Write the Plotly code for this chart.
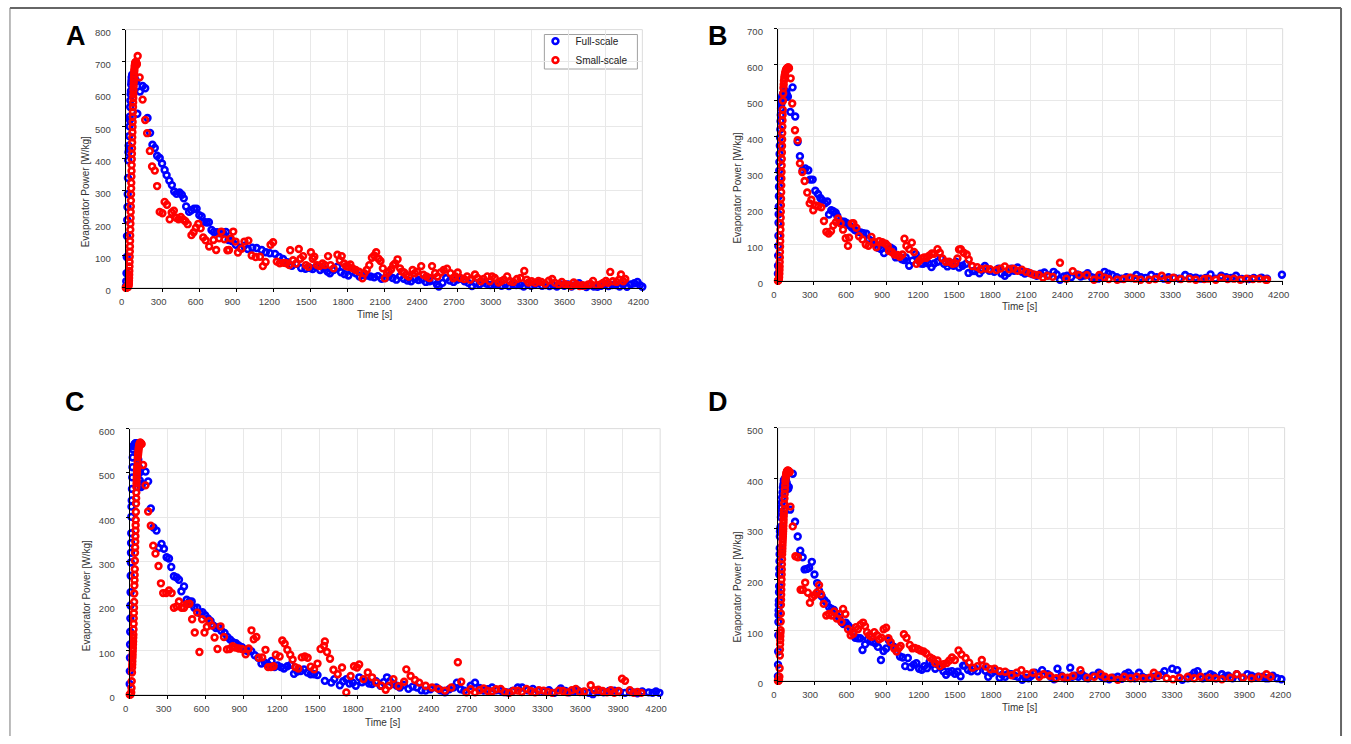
import plotly.graph_objects as go

W, H = 1351, 744

# ---------------- DATA ----------------
# Panel A
A_full_t = [2,4,6,8,10,12,14,16,18,20,22,24,26,28,30,32,34,36,38,40,42,44,46,48,50,52,55,58,62,66,70,75,80,86,
            94,115,137,158,177,198,217,236,255,276,295,316,332,354,375,394,413,437,456,472,
            491,515,533,555,576,598,617,638,657,676,697,716,743,764,791,815,836,863,895,933,
            962,992,1029,1064,1105,1139,1172,1214,1247,1279,1314,1351,1386,1426,1461,1499,
            1520,1550,1580,1610,1640,1660,1690,1720,1750,1780,1810,1840,1870,1900,1930,1960,1990,2020,2050,2080,
            2110,2140,2170,2200,2230,2260,2290,2320,2350,2380,2410,2440,2470,2500,2530,2545,2575,2605,2635,2665,
            2695,2725,2755,2785,2815,2845,2875,2905,2935,2965,2995,3025,3055,3085,3115,3145,3175,3205,3235,3265,
            3295,3325,3355,3385,3415,3445,3475,3505,3535,3565,3595,3625,3655,3685,3715,3745,3775,3805,3835,3865,
            3895,3925,3955,3985,4015,4045,4075,4105,4135,4160,4180,4200]
A_full_p = [5,20,45,95,160,210,250,290,340,395,420,440,430,470,500,530,520,560,580,600,610,630,640,650,655,660,650,640,655,660,650,645,640,640,
            539,608,625,618,526,480,443,433,409,402,385,365,349,332,318,298,291,295,288,277,
            252,235,240,245,245,225,221,204,202,203,179,173,172,169,170,173,148,145,133,123,
            130,120,124,123,117,110,107,105,95,89,79,68,74,61,59,61,
            58,65,55,60,50,45,55,65,48,42,38,50,45,35,40,38,35,32,36,28,
            30,36,30,25,36,28,22,20,28,24,26,18,20,22,10,4,15,30,22,18,
            25,28,20,15,5,14,10,16,12,8,10,12,6,10,5,12,8,8,4,12,
            6,10,15,6,8,5,8,4,10,6,10,4,8,14,6,2,8,4,3,6,
            11,5,8,8,4,10,3,10,14,18,8,3]
A_small_t = [0,3,6,9,12,15,18,20,22,24,25,26,27,28,29,30,31,32,33,34,35,36,37,38,39,40,41,42,43,44,
             45,46,47,48,49,50,51,52,53,54,55,56,57,58,59,60,61,62,63,64,65,66,67,68,69,70,72,74,76,78,
             80,82,84,86,88,90,
             97,113,137,158,174,196,214,236,255,276,298,316,335,357,373,391,410,429,448,469,
             485,504,534,552,571,590,609,630,649,678,713,735,759,777,802,826,839,853,874,893,
             912,941,965,997,1024,1056,1091,1115,1137,1177,1198,1228,1252,1284,1306,
             1330,1337,1360,1385,1407,1420,1442,1465,1485,1505,1520,1533,1555,1575,1600,1620,1645,1665,1690,1721,
             1740,1756,1775,1791,1810,1826,1845,1870,1895,1924,1940,1959,1980,2001,2020,2036,2055,2071,2090,2106,
             2125,2140,2158,2175,2190,2210,2230,2245,2263,2280,2300,2332,2350,2370,2402,2420,2445,2470,2490,2515,
             2535,2559,2585,2612,2640,2664,2680,2699,2720,2751,2775,2800,2839,2860,2885,2909,2940,2960,2978,3000,
             3031,3050,3075,3101,3125,3150,3181,3210,3240,3260,3275,3300,3330,3355,3380,3410,3440,3467,3490,3520,
             3545,3572,3600,3620,3642,3665,3690,3710,3729,3760,3780,3799,3830,3860,3880,3904,3920,3939,3960,3990,
             4010,4026,4045,4061]
A_small_p = [0,1,0,2,1,3,2,4,6,10,15,22,30,40,52,66,80,96,112,128,145,162,180,198,216,235,252,270,290,308,
             325,345,362,380,398,415,432,450,466,482,498,514,530,545,560,574,588,600,612,624,635,645,654,662,670,676,684,690,694,697,
             699,700,698,696,694,692,
             718,652,583,520,479,424,376,363,315,235,231,266,257,212,233,239,217,212,219,211,
             206,197,163,172,186,198,184,156,147,128,148,117,153,174,150,116,117,153,174,143,
             109,121,143,146,100,95,96,67,80,133,141,81,76,77,76,
             70,116,85,75,120,90,98,70,65,110,90,96,70,67,75,70,98,70,60,102,
             85,98,75,67,65,72,60,55,50,29,45,55,70,93,100,110,90,83,60,29,
             45,50,57,70,75,88,60,50,47,40,35,55,45,50,67,40,35,30,67,45,
             35,47,55,59,45,29,35,47,30,27,35,25,41,30,20,27,35,20,35,30,
             16,20,25,35,20,18,27,30,52,25,16,20,15,21,18,12,22,27,15,10,
             18,11,8,5,16,10,5,8,6,10,12,21,8,10,15,21,15,49,20,18,
             25,41,20,27]

# Panel B
B_full_t = [0,1,2,3,4,5,6,7,8,9,10,11,12,14,16,18,20,22,24,26,28,30,33,36,40,45,50,55,60,65,70,76,83,
            103,122,144,164,183,206,228,253,269,289,311,333,353,369,392,411,425,444,461,481,
            494,517,536,553,569,592,614,639,664,689,711,736,758,786,808,833,856,883,911,939,
            958,981,1008,1031,1050,1064,1092,1119,1147,1169,1189,1208,1231,1253,1278,1300,1328,1356,1383,1411,
            1433,1461,1481,1508,1536,1564,1586,
            1620,1641,1677,1700,1722,1760,1800,1835,1860,1888,1915,1941,1965,1994,2030,2055,2083,2120,2153,2185,
            2217,2255,2294,2320,2347,2380,2407,2440,2488,2520,2550,2577,2610,2640,2665,2690,2718,2750,2781,2820,
            2859,2900,2940,2983,3020,3060,3106,3150,3212,3250,3300,3340,3389,3430,3477,3520,3560,3600,3640,3689,
            3730,3770,3812,3860,3918,3960,4024,4070,4194]
B_full_p = [20,42,70,97,125,161,185,206,235,261,285,306,330,352,375,397,420,443,460,479,490,500,507,512,516,520,522,525,520,518,525,515,511,
            469,537,456,385,346,307,312,307,281,281,250,241,230,224,215,220,184,196,193,189,
            180,166,164,164,161,155,148,141,136,134,132,131,115,110,103,92,88,77,90,92,
            88,65,67,60,58,65,42,56,74,60,48,47,53,48,38,48,53,63,47,40,
            48,42,53,37,42,47,22,
            27,27,21,30,41,28,25,34,20,14,22,34,28,37,25,20,23,18,14,20,
            23,15,25,18,3,12,14,10,18,12,15,21,10,8,6,12,25,20,16,10,
            6,10,8,16,10,8,16,10,6,10,8,6,16,10,9,6,8,18,6,14,
            10,8,14,5,5,8,9,6,17]
B_small_t = [0,2,4,6,8,10,12,13,14,15,16,17,18,19,20,21,22,23,24,25,26,27,28,29,30,31,32,33,34,35,
             36,37,38,39,40,42,44,46,48,50,53,56,60,64,68,72,76,80,84,88,92,
             106,119,142,164,183,203,222,244,264,278,294,314,336,361,383,403,422,442,461,483,
             500,522,542,564,583,592,614,628,653,675,703,731,753,778,800,819,842,869,897,914,
             925,947,969,994,1014,1036,1053,1069,1092,1114,1133,1153,1175,1197,1217,1236,1258,1281,1300,1328,
             1347,1369,1397,1425,1453,1475,1494,1507,1522,1546,1571,1588,1617,1659,1687,1730,1765,1818,1853,1888,
             1924,1959,1994,2030,2065,2100,2136,2171,2206,2241,2287,2347,2400,2453,2506,2570,2630,2675,2718,2753,
             2824,2877,2930,2972,3018,3089,3141,3194,3247,3290,3353,3424,3477,3547,3583,3643,3689,3742,3795,3848,
             3900,3953,4006,4059,4070]
B_small_p = [0,1,2,3,5,10,20,30,40,52,65,80,95,110,125,142,158,175,192,210,228,246,265,284,302,320,338,356,374,392,
             410,428,445,460,475,500,520,535,545,555,563,570,577,582,586,588,590,591,592,592,590,
             562,492,418,390,326,302,277,245,215,225,196,209,207,204,166,136,131,138,154,163,
             173,159,142,118,97,120,159,160,147,124,115,101,97,122,107,93,110,107,103,97,
             83,80,73,72,67,73,117,97,88,106,80,47,55,62,65,64,70,76,75,88,
             78,62,53,53,47,49,62,87,88,78,73,59,41,38,32,34,32,30,34,40,
             32,34,28,31,25,21,17,16,9,14,11,50,6,27,16,16,3,16,9,5,
             3,5,9,6,3,3,5,14,3,9,5,6,3,5,6,3,9,5,6,3,
             6,5,6,3,3]

# Panel C
C_full_t = [0,1,2,3,4,5,6,7,8,9,10,11,12,13,14,16,18,20,22,24,27,30,34,38,42,46,50,55,60,64,68,72,76,80,85,90,95,
            125,146,167,188,212,231,252,271,292,311,329,350,372,390,409,430,451,473,491,512,
            534,555,576,597,619,640,661,682,704,725,751,773,796,818,841,863,889,916,937,963,
            990,1017,1043,1070,1094,1123,1147,1171,1197,1221,1248,1274,1301,1327,1354,1380,1407,1433,1460,1487,
            1545,1596,1620,1664,1690,1715,1740,1766,1790,1817,1840,1868,1895,1919,1950,1986,2010,2037,2060,2088,
            2115,2139,2170,2207,2240,2275,2310,2343,2380,2428,2460,2496,2530,2564,2591,2620,2649,2700,2734,2770,
            2802,2835,2869,2900,2937,2960,2988,3030,3073,3107,3150,3192,3235,3277,3320,3362,3413,3450,3481,3520,
            3549,3590,3634,3667,3710,3752,3795,3837,3880,3922,3960,3990,4020,4058,4109,4140,4167,4194]
C_full_p = [24,53,83,113,142,172,201,231,268,298,320,342,364,401,424,438,464,490,513,535,553,560,562,564,566,567,565,567,560,542,530,513,500,483,475,468,472,
            503,481,420,377,370,331,340,329,310,307,288,267,264,259,233,244,214,210,210,196,
            196,184,186,179,172,166,156,150,152,144,139,130,124,118,116,111,107,100,98,98,
            89,83,70,72,68,76,62,66,62,59,64,67,47,52,53,57,50,46,46,44,
            31,27,35,21,30,35,25,27,20,39,28,31,25,24,30,20,28,39,30,24,
            20,16,22,13,18,16,10,9,12,16,10,5,12,16,27,12,9,20,27,15,
            9,12,16,10,9,6,5,8,16,16,10,13,8,7,10,4,14,8,5,8,
            9,6,4,1,6,5,8,9,6,4,6,5,3,7,5,4,7,4]
C_small_t = [0,3,6,9,12,14,16,18,19,20,21,22,23,24,25,26,27,28,29,30,31,32,33,34,35,36,37,38,39,40,
             41,42,43,44,45,46,47,48,49,50,51,52,53,54,55,56,57,58,59,60,62,64,66,68,70,72,74,76,78,80,
             82,85,88,91,94,
             106,125,146,167,186,204,228,247,265,289,311,332,350,372,390,411,430,451,473,494,
             515,534,552,573,592,611,629,650,672,695,719,746,770,791,815,836,863,889,918,942,
             964,982,1003,1022,1049,1075,1096,1118,1139,1157,1187,1208,1227,1248,1271,1290,1311,1335,1362,1386,
             1409,1433,1460,1487,1511,1538,1545,1562,1586,1613,1647,1681,1715,1749,1776,1800,1817,1851,1885,1919,
             1953,1993,2027,2054,2088,2129,2173,2190,2224,2258,2292,2343,2394,2445,2496,2547,2598,2625,2666,2700,
             2734,2770,2802,2835,2869,2900,2937,2970,3005,3040,3073,3105,3141,3175,3209,3240,3277,3310,3345,3396,
             3430,3464,3500,3532,3565,3600,3650,3680,3711,3745,3779,3810,3837,3870,3898,3922,3960,3990,4020,4051]
C_small_p = [0,1,0,2,5,15,30,50,61,68,75,83,90,98,105,113,120,128,135,147,160,172,184,196,209,228,246,258,270,283,
             302,320,332,345,357,370,382,394,412,431,443,456,468,476,484,491,498,505,510,515,525,535,541,546,552,557,560,563,565,567,
             568,568,567,566,565,
             518,472,413,381,336,318,290,251,229,229,235,229,196,199,210,196,196,204,205,170,
             140,185,96,170,140,153,166,156,129,103,154,130,102,103,109,106,104,103,91,104,
             145,125,130,83,84,101,62,62,64,90,86,122,115,101,90,79,62,59,84,86,
             83,63,57,70,103,110,120,96,81,56,46,61,5,42,64,61,68,35,50,39,
             27,20,11,20,35,19,29,57,42,33,27,20,16,13,9,16,73,29,5,12,
             5,10,14,8,7,12,13,6,4,9,9,6,13,8,5,10,9,6,4,9,
             8,5,10,13,6,7,21,10,11,8,5,10,4,8,36,31,10,4,6,4]

# Panel D
D_full_t = [0,1,2,3,4,5,6,7,8,9,10,11,12,13,14,15,16,17,19,22,25,28,30,33,35,38,41,45,49,53,57,63,68,73,79,85,90,
            101,123,142,164,185,205,221,240,259,281,303,325,341,363,385,404,425,445,464,486,
            507,527,543,562,581,603,622,641,663,682,701,723,745,766,788,807,829,854,875,897,
            919,941,963,984,1012,1034,1055,1077,1099,1126,1148,1170,1192,1213,1235,1257,1279,1304,1325,1350,
            1372,1394,1416,1443,1467,1489,1514,1535,1549,1575,1602,1630,1655,1697,1720,1743,1770,1796,1838,1860,
            1884,1910,1937,1960,1989,2025,2050,2077,2100,2130,2160,2190,2236,2260,2289,2317,2350,2377,2423,2440,
            2465,2490,2518,2545,2570,2610,2658,2685,2711,2746,2780,2817,2850,2880,2905,2930,2958,2993,3020,3046,
            3092,3120,3151,3180,3204,3268,3310,3352,3398,3425,3451,3479,3521,3550,3585,3610,3634,3680,3705,3732,
            3768,3803,3845,3891,3926,3950,3979,4021,4045,4067,4102,4137,4173]
D_full_p = [9,32,58,90,116,130,139,150,158,175,187,210,222,236,250,262,285,295,300,304,323,333,343,352,362,372,382,388,395,397,399,398,394,390,385,379,383,
            338,409,314,285,257,244,220,221,223,235,210,193,178,167,159,154,145,142,140,130,
            124,116,112,115,110,104,95,85,84,84,61,72,82,78,77,74,67,41,59,64,
            80,71,67,59,48,46,29,45,27,32,35,24,22,29,25,37,33,24,32,27,
            19,12,18,19,14,18,9,30,30,22,19,25,19,30,20,8,15,19,6,12,
            8,14,13,10,8,2,6,5,10,16,12,21,13,8,3,24,10,5,26,8,
            10,8,13,8,5,10,16,8,5,3,6,8,4,13,16,10,5,16,8,5,
            5,8,10,12,19,24,21,2,5,10,16,19,5,8,13,10,5,13,8,10,
            5,13,6,13,10,6,8,8,5,5,10,5,3]
D_small_t = [0,3,6,9,12,14,16,17,18,19,20,21,22,23,24,25,26,27,28,29,30,31,32,33,34,35,36,37,38,39,
             40,41,42,43,44,45,46,47,48,49,50,52,54,56,58,60,62,64,66,68,70,73,76,79,82,85,88,91,94,97,
             104,123,145,166,188,207,226,248,265,284,303,322,341,357,379,401,423,445,466,488,
             510,527,540,559,581,603,625,646,663,684,706,722,739,758,777,799,821,840,859,876,
             897,916,935,963,984,1003,1017,1044,1066,1093,1115,1134,1159,1181,1208,1230,1262,1284,1304,1323,
             1345,1372,1399,1421,1443,1467,1497,1521,1556,1585,1613,1655,1690,1725,1761,1796,1838,1884,1937,1979,
             2018,2060,2113,2166,2201,2254,2306,2359,2402,2447,2507,2564,2623,2676,2711,2764,2817,2870,2923,2975,
             3028,3081,3116,3151,3222,3275,3328,3398,3451,3504,3574,3627,3680,3750,3803,3856,3926,3986,4049,4084]
D_small_p = [0,1,0,2,8,25,50,62,72,80,88,95,100,117,133,150,160,170,180,190,200,210,220,230,240,250,256,262,268,274,
             280,285,290,295,300,306,312,318,325,331,337,350,360,369,378,386,394,400,404,407,410,412,414,415,415,415,414,414,413,412,
             344,305,246,244,180,180,194,174,154,165,169,174,189,171,152,129,132,129,137,123,
             132,116,142,132,102,90,93,106,102,111,115,108,96,90,87,96,90,82,85,102,
             105,84,76,64,58,65,69,92,85,71,64,65,63,60,58,54,46,43,35,40,
             29,33,35,40,46,41,60,52,45,36,26,29,41,28,23,24,19,18,11,16,
             21,13,16,8,13,10,5,8,6,10,21,6,8,13,8,6,2,8,5,8,
             5,6,16,10,5,3,6,8,5,8,6,5,3,6,13,6,5,8,13,8]

panel_letters = ["A", "B", "C", "D"]
y_maxes = [800, 700, 600, 500]
x_ticks = [0, 300, 600, 900, 1200, 1500, 1800, 2100, 2400, 2700, 3000, 3300, 3600, 3900, 4200]
series_names = ["Full-scale", "Small-scale"]
series_colors = ["#0000ff", "#ff0000"]
y_title = "Evaporator Power [W/kg]"
x_title = "Time [s]"

# ---------------- LAYOUT (pixel boxes) ----------------
boxes = [(120, 642, 27, 289), (779, 1289, 26, 282), (124, 660, 432, 702), (779, 1291, 431, 688)]
letter_pos = [(70, 33), (718, 34), (69, 405), (718, 405)]
ytitle_pos = [(79, 192), (738, 188), (80, 602), (738, 593)]
xtitle_pos = [(371, 316), (1023, 308), (379, 730), (1023, 715)]

panels = [
    (A_full_t, A_full_p, A_small_t, A_small_p),
    (B_full_t, B_full_p, B_small_t, B_small_p),
    (C_full_t, C_full_p, C_small_t, C_small_p),
    (D_full_t, D_full_p, D_small_t, D_small_p),
]

fx = lambda px: px / W
fy = lambda py: 1 - py / H

fig = go.Figure()
font_fam = "Liberation Sans, Arial, sans-serif"

for i, (ft, fp, st, sp) in enumerate(panels):
    n = "" if i == 0 else str(i + 1)
    xa, ya = "x" + n, "y" + n
    for j, (tt, pp) in enumerate([(ft, fp), (st, sp)]):
        fig.add_trace(go.Scatter(
            x=tt, y=pp, xaxis=xa, yaxis=ya, mode="markers",
            name=series_names[j], showlegend=(i == 0), cliponaxis=False,
            marker=dict(symbol="circle-open", size=5.8, color=series_colors[j],
                        line=dict(width=2.6, color=series_colors[j])),
        ))
    l, r, t, b = boxes[i]
    axis_common = dict(showgrid=True, gridcolor="#e8e8e8", gridwidth=1, zeroline=False,
                       showline=True, linecolor="#000", linewidth=1.2,
                       ticks="outside", ticklen=3, tickcolor="#000",
                       tickfont=dict(family=font_fam, size=9.5, color="#444"))
    fig.layout["xaxis" + n] = dict(domain=[fx(l), fx(r)], anchor=ya, range=[0, 4200],
                                   tickvals=x_ticks, ticklabelshift=-4, ticklabelstandoff=2,
                                   **axis_common)
    fig.layout["yaxis" + n] = dict(domain=[fy(b), fy(t)], anchor=xa, range=[0, y_maxes[i]],
                                   dtick=100, ticklabelshift=3, ticklabelstandoff=9, **axis_common)
    fig.add_shape(type="rect", xref=xa + " domain", yref=ya + " domain", x0=0, x1=1, y0=0, y1=1,
                  line=dict(color="#dcdcdc", width=1), layer="below")
    lx, ly = letter_pos[i]
    fig.add_annotation(x=fx(lx), y=fy(ly), xref="paper", yref="paper", text="<b>%s</b>" % panel_letters[i],
                       showarrow=False, font=dict(family=font_fam, size=27, color="#000"),
                       xanchor="center", yanchor="middle")
    tx, ty = ytitle_pos[i]
    fig.add_annotation(x=fx(tx), y=fy(ty), xref="paper", yref="paper", text=y_title, textangle=-90,
                       showarrow=False, font=dict(family=font_fam, size=10, color="#333"),
                       xanchor="center", yanchor="middle")
    tx, ty = xtitle_pos[i]
    fig.add_annotation(x=fx(tx), y=fy(ty), xref="paper", yref="paper", text=x_title,
                       showarrow=False, font=dict(family=font_fam, size=10, color="#333"),
                       xanchor="center", yanchor="middle")

# legend frame box
fig.add_shape(type="rect", xref="paper", yref="paper", x0=fx(543), x1=fx(637), y0=fy(67), y1=fy(32),
              line=dict(color="#a0a0a0", width=1), fillcolor="white", layer="below")

# outer frame
fig.add_shape(type="line", xref="paper", yref="paper", x0=fx(3), x1=fx(1348), y0=fy(5), y1=fy(5),
              line=dict(color="#666", width=2))
fig.add_shape(type="line", xref="paper", yref="paper", x0=fx(3), x1=fx(3), y0=fy(5), y1=0,
              line=dict(color="#777", width=1))
fig.add_shape(type="line", xref="paper", yref="paper", x0=fx(1348), x1=fx(1348), y0=fy(5), y1=0,
              line=dict(color="#666", width=2))

fig.update_layout(
    width=W, height=H, margin=dict(l=0, r=0, t=0, b=0),
    paper_bgcolor="white", plot_bgcolor="white",
    font=dict(family=font_fam),
    legend=dict(x=fx(534), y=fy(24), xanchor="left", yanchor="top",
                borderwidth=0, bgcolor="rgba(0,0,0,0)",
                font=dict(family=font_fam, size=10, color="#222"),
                itemwidth=30, tracegroupgap=0),
)

fig.write_html("out.html", config={"displayModeBar": False},
               post_script="document.body.style.margin='0';document.body.style.overflow='hidden';")
